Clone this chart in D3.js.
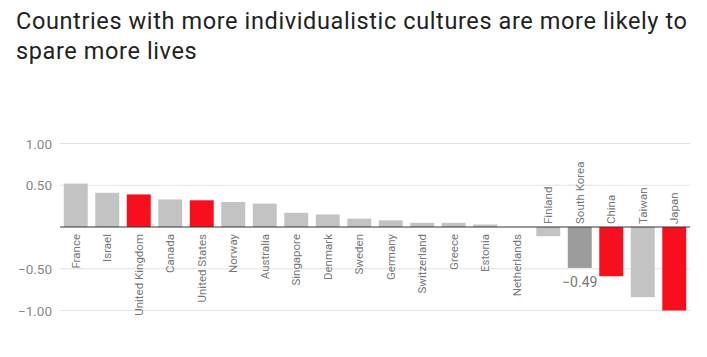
<!DOCTYPE html>
<html><head><meta charset="utf-8">
<script src="https://cdn.jsdelivr.net/npm/d3@7"></script>
<style>body{margin:0;background:#fff;} svg{display:block;font-family:Roboto,"Noto Sans",sans-serif;}</style>
</head><body>
<svg id="c" width="707" height="357"></svg>
<script>
const countries = ["France","Israel","United Kingdom","Canada","United States","Norway","Australia","Singapore","Denmark","Sweden","Germany","Switzerland","Greece","Estonia","Netherlands","Finland","South Korea","China","Taiwan","Japan"];
const values = [0.52,0.41,0.39,0.33,0.32,0.30,0.28,0.17,0.15,0.10,0.08,0.05,0.05,0.03,0.00,-0.11,-0.49,-0.59,-0.84,-1.00];
const colorGroups = ["g","g","r","g","r","g","g","g","g","g","g","g","g","g","g","g","d","r","g","r"];
const tickValues = [1.00,0.50,-0.50,-1.00];
const labelled = ["South Korea"];
const titleLines = ["Countries with more individualistic cultures are more likely to","spare more lives"];

const palette = {g:"#c3c3c3", r:"#f70f1d", d:"#9c9c9c"};
const svg = d3.select("#c");
const x = d3.scaleBand().domain(countries).range([60,690]).paddingInner(0.24).paddingOuter(0.12);
const y = d3.scaleLinear().domain([-1,1]).range([310.5,143.5]);

const t = svg.selectAll("text.title").data(titleLines).join("text")
  .attr("x",16).attr("y",(d,i)=>29+i*30)
  .attr("font-size",23.5).attr("fill","#222").text(d=>d);
// stretch spacing so the first line matches the reference width
const w0 = t.nodes()[0].getComputedTextLength();
const ls = (671 - w0) / (titleLines[0].length - 1);
t.attr("letter-spacing", ls);

// grid
svg.selectAll("line.grid").data(tickValues).join("line")
  .attr("x1",60).attr("x2",690).attr("y1",d=>y(d)).attr("y2",d=>y(d))
  .attr("stroke","#e2e2e2").attr("stroke-width",1);
svg.selectAll("text.tick").data(tickValues).join("text")
  .attr("x",52).attr("y",d=>y(d)+5).attr("text-anchor","end")
  .attr("font-size",13.5).attr("fill","#888").text(d=>d3.format(".2f")(d));

const data = countries.map((c,i)=>({c,v:values[i],g:colorGroups[i]}));
svg.selectAll("rect.bar").data(data).join("rect")
  .attr("x",d=>x(d.c)).attr("width",x.bandwidth())
  .attr("y",d=>y(Math.max(0,d.v))).attr("height",d=>Math.abs(y(d.v)-y(0)))
  .attr("fill",d=>palette[d.g]);

svg.append("line").attr("x1",60).attr("x2",690).attr("y1",y(0)).attr("y2",y(0))
  .attr("stroke","#333").attr("stroke-width",1.2);

svg.selectAll("text.cat").data(data).join("text")
  .attr("transform",d=>{
    const cx = x(d.c)+x.bandwidth()/2+4;
    return d.v>=0 ? `translate(${cx},${y(0)+7}) rotate(-90)` : `translate(${cx},${y(0)-3}) rotate(-90)`;
  })
  .attr("text-anchor",d=>d.v>=0?"end":"start")
  .attr("font-size",11.5).attr("fill","#777").text(d=>d.c);

svg.selectAll("text.val").data(data.filter(d=>labelled.includes(d.c))).join("text")
  .attr("x",d=>x(d.c)+x.bandwidth()/2).attr("y",d=>y(d.v)+19)
  .attr("text-anchor","middle").attr("font-size",14).attr("fill","#777")
  .text(d=>d3.format(".2f")(d.v));
</script>
</body></html>
